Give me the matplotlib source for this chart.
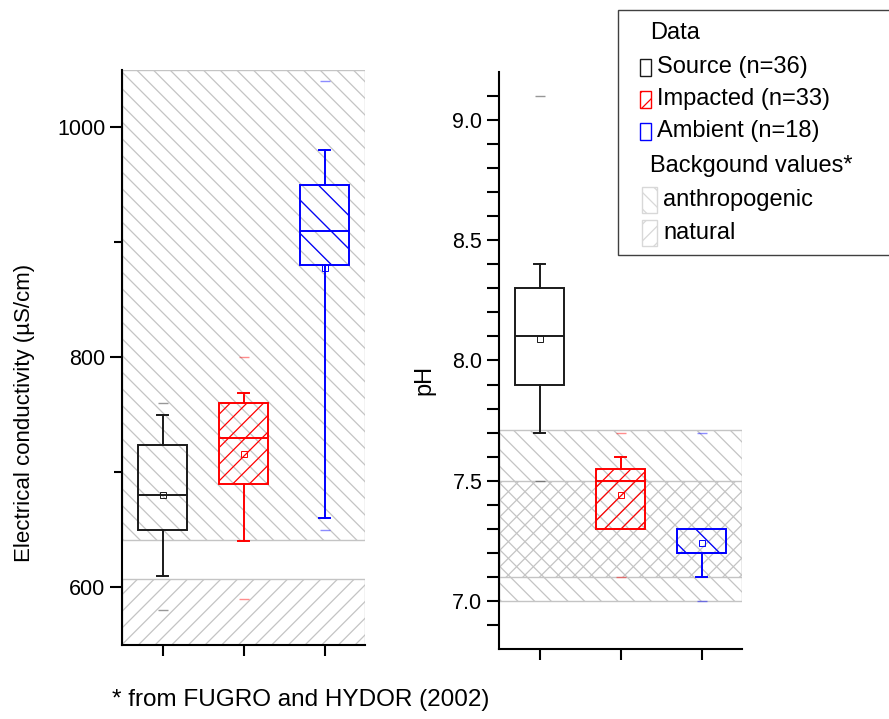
import matplotlib
matplotlib.use("Agg")
import matplotlib.pyplot as plt
from matplotlib.patches import Rectangle

# ── Data ──────────────────────────────────────────────────────────────
groups = ["Source", "Impacted", "Ambient"]
group_n = [36, 33, 18]
colors = ["#1a1a1a", "#ff0000", "#0000ff"]
hatches = ["", "//", "\\"]

# electrical conductivity, uS/cm
ec_q1 = [650, 690, 880]
ec_med = [680, 730, 910]
ec_q3 = [724, 760, 950]
ec_whislo = [610, 640, 660]
ec_whishi = [750, 769, 980]
ec_mean = [680, 716, 878]
ec_min = [580, 590, 650]
ec_max = [760, 800, 1040]
ec_anthro = (641, 1050)
ec_natural = (550, 607)

# pH
ph_q1 = [7.9, 7.3, 7.2]
ph_med = [8.1, 7.5, 7.2]
ph_q3 = [8.3, 7.55, 7.3]
ph_whislo = [7.7, 7.3, 7.1]
ph_whishi = [8.4, 7.6, 7.3]
ph_mean = [8.09, 7.44, 7.24]
ph_min = [7.5, 7.1, 7.0]
ph_max = [9.1, 7.7, 7.7]
ph_anthro = (7.0, 7.71)
ph_natural = (7.1, 7.5)

W, H = 889, 719
BG = "#c4c4c4"

plt.rcParams.update({
    "font.family": ["Liberation Sans", "DejaVu Sans"],
    "hatch.linewidth": 0.9,
    "axes.linewidth": 1.5,
    "xtick.major.width": 1.5,
    "ytick.major.width": 1.5,
    "ytick.minor.width": 1.5,
    "ytick.labelsize": 15.5,
})


def px(x, y):
    return x / W, 1 - y / H


def make_stats(q1, med, q3, lo, hi, mean, mn, mx):
    return [dict(q1=q1[i], med=med[i], q3=q3[i], whislo=lo[i], whishi=hi[i],
                 mean=mean[i], fliers=[mn[i], mx[i]]) for i in range(len(q1))]


def draw_panel(ax, stats, anthro, natural):
    for (lo, hi), h in ((anthro, "\\\\"), (natural, "//")):
        ax.add_patch(Rectangle((0.5, lo), 3, hi - lo, facecolor="none",
                               edgecolor=BG, hatch=h, lw=1.0, zorder=1))
    res = ax.bxp(stats, positions=[1, 2, 3], widths=0.6, patch_artist=True,
                 showmeans=True, showfliers=True, capwidths=0.13,
                 manage_ticks=False)
    for i, c in enumerate(colors):
        res["boxes"][i].set(facecolor="none", edgecolor=c, hatch=hatches[i],
                            lw=1.4, zorder=3)
        res["medians"][i].set(color=c, lw=1.4, zorder=3)
        for art in res["whiskers"][2 * i:2 * i + 2] + res["caps"][2 * i:2 * i + 2]:
            art.set(color=c, lw=1.4, zorder=3)
        res["fliers"][i].set(marker="_", markersize=7, markeredgewidth=1.0,
                             markeredgecolor=c, alpha=0.45, zorder=3)
        res["means"][i].set(marker="s", markersize=5, markerfacecolor="none",
                            markeredgecolor=c, markeredgewidth=0.7, zorder=4)
    ax.set_xlim(0.5, 3.5)
    ax.set_xticks([1, 2, 3])
    ax.set_xticklabels([])
    ax.spines["top"].set_visible(False)
    ax.spines["right"].set_visible(False)
    ax.tick_params(axis="x", direction="out", length=8)
    ax.tick_params(axis="y", which="major", direction="out", length=9, pad=3)
    ax.tick_params(axis="y", which="minor", direction="out", length=6)


fig = plt.figure(figsize=(W / 100, H / 100), dpi=100)

ax1 = fig.add_axes([122 / W, 1 - 645 / H, 243 / W, 575 / H])
draw_panel(ax1, make_stats(ec_q1, ec_med, ec_q3, ec_whislo, ec_whishi,
                           ec_mean, ec_min, ec_max), ec_anthro, ec_natural)
ax1.set_ylim(550, 1050)
ax1.set_yticks([600, 800, 1000])
ax1.set_yticks([700, 900], minor=True)

ax2 = fig.add_axes([499 / W, 1 - 649 / H, 243 / W, 577 / H])
draw_panel(ax2, make_stats(ph_q1, ph_med, ph_q3, ph_whislo, ph_whishi,
                           ph_mean, ph_min, ph_max), ph_anthro, ph_natural)
ax2.set_ylim(6.8, 9.2)
ax2.set_yticks([7.0, 7.5, 8.0, 8.5, 9.0])
ax2.set_yticklabels(["7.0", "7.5", "8.0", "8.5", "9.0"])
ax2.set_yticks([6.9, 7.1, 7.2, 7.3, 7.4, 7.6, 7.7, 7.8, 7.9,
                8.1, 8.2, 8.3, 8.4, 8.6, 8.7, 8.8, 8.9, 9.1], minor=True)
ax2.tick_params(axis="y", which="minor", length=9)

fig.text(*px(25, 413), "Electrical conductivity (\u00b5S/cm)", rotation=90,
         ha="center", va="center", fontsize=16)
fig.text(*px(424, 380), "pH", rotation=90, ha="center", va="center",
         fontsize=17)
fig.text(*px(112, 700), "* from FUGRO and HYDOR (2002)", ha="left",
         va="center", fontsize=17.5)

# ── Legend (drawn by hand, Origin style) ─────────────────────────────
fx, fy = px(618, 255)
fig.add_artist(Rectangle((fx, fy), (895 - 618) / W, 245 / H,
                         transform=fig.transFigure, facecolor="white",
                         edgecolor="#404040", lw=1.0))

leg_fs = 17
fig.text(*px(650, 33), "Data", fontsize=leg_fs, va="center")
for i, (g, n) in enumerate(zip(groups, group_n)):
    yc = 67 + i * 32
    x0, y0 = px(640, yc + 8.5)
    fig.add_artist(Rectangle((x0, y0), 11 / W, 17 / H,
                             transform=fig.transFigure, facecolor="none",
                             edgecolor=colors[i], hatch=hatches[i], lw=1.0))
    fig.text(*px(657, yc), f"{g} (n={n})", fontsize=leg_fs, va="center")

fig.text(*px(650, 166), "Backgound values*", fontsize=leg_fs, va="center")
for j, (lab, h) in enumerate((("anthropogenic", "\\\\"), ("natural", "//"))):
    yc = 200 + j * 33
    x0, y0 = px(642, yc + 13)
    fig.add_artist(Rectangle((x0, y0), 15 / W, 26 / H,
                             transform=fig.transFigure, facecolor="none",
                             edgecolor="#d8d8d8", hatch=h, lw=1.0))
    fig.text(*px(663, yc), lab, fontsize=leg_fs, va="center")

fig.savefig("out.png", dpi=100)
